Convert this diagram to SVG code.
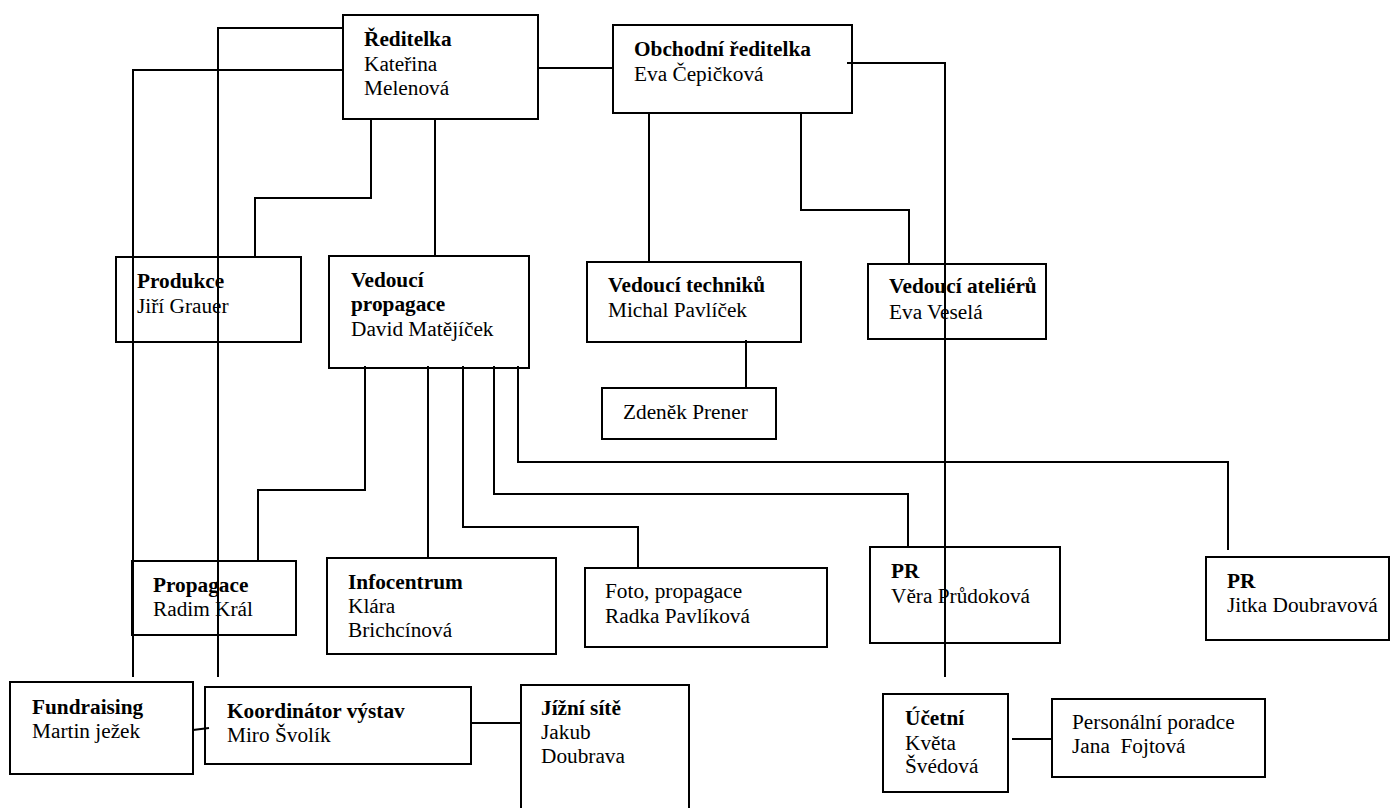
<svg xmlns="http://www.w3.org/2000/svg" width="1391" height="808" viewBox="0 0 1391 808">
<style>
rect.box{fill:#fff;stroke:#000;stroke-width:2}
text{font-family:"Liberation Serif","Times New Roman",serif;font-size:21.3px;fill:#000;white-space:pre}
.b{font-weight:bold}
#connectors path,#connectors line{fill:none;stroke:#000;stroke-width:2}
</style>
<rect width="1391" height="808" fill="#fff"/>
<g id="reditelka"><rect class="box" x="343" y="15" width="195" height="104"/><text x="364" y="46" class="b">Ředitelka</text><text x="364" y="70.5">Kateřina</text><text x="364" y="95">Melenová</text></g>
<g id="obchodni"><rect class="box" x="613" y="25" width="239" height="88"/><text x="634" y="56" class="b">Obchodní ředitelka</text><text x="634" y="81">Eva Čepičková</text></g>
<g id="produkce"><rect class="box" x="116" y="257" width="185" height="85"/><text x="137" y="287.5" class="b">Produkce</text><text x="137" y="312.5">Jiří Grauer</text></g>
<g id="vedouci-propagace"><rect class="box" x="329" y="256" width="200" height="112"/><text x="351" y="286.5" class="b">Vedoucí</text><text x="351" y="311" class="b">propagace</text><text x="351" y="336">David Matějíček</text></g>
<g id="vedouci-techniku"><rect class="box" x="587" y="262" width="214" height="80"/><text x="608" y="292" class="b">Vedoucí techniků</text><text x="608" y="317">Michal Pavlíček</text></g>
<g id="vedouci-atelieru"><rect class="box" x="868" y="264" width="178" height="75"/><text x="889" y="293" class="b">Vedoucí ateliérů</text><text x="889" y="318.5">Eva Veselá</text></g>
<g id="zdenek"><rect class="box" x="602" y="388" width="174" height="51"/><text x="623" y="419">Zdeněk Prener</text></g>
<g id="propagace"><rect class="box" x="132" y="561" width="164" height="74"/><text x="153" y="592" class="b">Propagace</text><text x="153" y="616">Radim Král</text></g>
<g id="infocentrum"><rect class="box" x="327" y="558" width="229" height="96"/><text x="348" y="589" class="b">Infocentrum</text><text x="348" y="613">Klára</text><text x="348" y="637">Brichcínová</text></g>
<g id="foto"><rect class="box" x="585" y="568" width="242" height="79"/><text x="605" y="598">Foto, propagace</text><text x="605" y="623">Radka Pavlíková</text></g>
<g id="pr-vera"><rect class="box" x="870" y="547" width="190" height="96"/><text x="891" y="578" class="b">PR</text><text x="891" y="603">Věra Průdoková</text></g>
<g id="pr-jitka"><rect class="box" x="1206" y="557" width="183" height="83"/><text x="1227" y="588" class="b">PR</text><text x="1227" y="612">Jitka Doubravová</text></g>
<g id="fundraising"><rect class="box" x="10" y="682" width="183" height="92"/><text x="32" y="714" class="b">Fundraising</text><text x="32" y="738">Martin ježek</text></g>
<g id="koordinator"><rect class="box" x="205" y="687" width="266" height="77"/><text x="227" y="718" class="b">Koordinátor výstav</text><text x="227" y="742">Miro Švolík</text></g>
<g id="jizni-site"><rect class="box" x="521" y="685" width="168" height="130"/><text x="541" y="715" class="b">Jížní sítě</text><text x="541" y="739">Jakub</text><text x="541" y="763">Doubrava</text></g>
<g id="ucetni"><rect class="box" x="883" y="694" width="125" height="98"/><text x="905" y="725" class="b">Účetní</text><text x="905" y="750">Květa</text><text x="905" y="773">Švédová</text></g>
<g id="personalni"><rect class="box" x="1052" y="699" width="213" height="78"/><text x="1072" y="729">Personální poradce</text><text x="1072" y="753">Jana  Fojtová</text></g>
<g id="connectors">
<path d="M343 28H218V677"/>
<path d="M343 70H133V677"/>
<path d="M538 68H613"/>
<path d="M847 63H945V677"/>
<path d="M649 113V262"/>
<path d="M801 113V210H909V264"/>
<path d="M371 119V198H255V257"/>
<path d="M435 119V256"/>
<path d="M746 340V388"/>
<path d="M365 366V490H258V561"/>
<path d="M428 366V558"/>
<path d="M463 366V527H638V568"/>
<path d="M494 366V494H908V547"/>
<path d="M518 366V462H1228V550"/>
<line x1="193" y1="730" x2="209" y2="728"/>
<path d="M471 723H521"/>
<path d="M1012 739H1052"/>
</g>
</svg>
